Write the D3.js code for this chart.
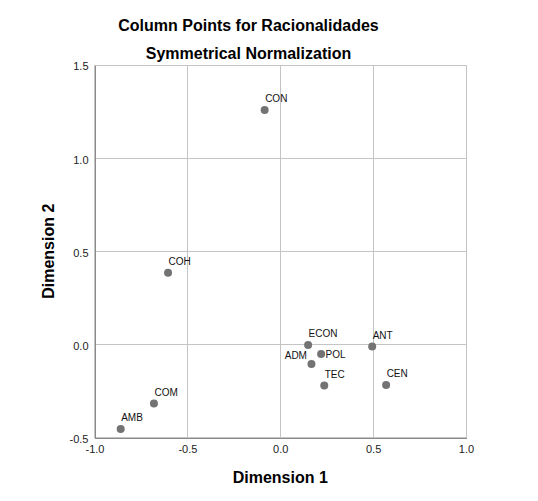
<!DOCTYPE html>
<html><head><meta charset="utf-8">
<script src="https://cdn.jsdelivr.net/npm/d3@7"></script>
<style>body{margin:0;background:#fff}svg{display:block}text{font-family:"Liberation Sans",Arial,sans-serif}</style>
</head><body><svg id="c" width="538" height="501"></svg>
<script>
const labels = ["CON","COH","ECON","POL","ADM","TEC","ANT","CEN","COM","AMB"];
const dim1 = [-0.084,-0.604,0.150,0.220,0.168,0.237,0.495,0.570,-0.680,-0.859];
const dim2 = [1.258,0.384,-0.004,-0.052,-0.106,-0.221,-0.012,-0.218,-0.318,-0.454];
const xTicks = [-1.0,-0.5,0.0,0.5,1.0];
const yTicks = [-0.5,0.0,0.5,1.0,1.5];
const title1 = "Column Points for Racionalidades";
const title2 = "Symmetrical Normalization";

// label placement (style)
const placement = {POL:"right", ADM:"left"};

const svg = d3.select("#c");
const L=94.5, R=466, T=65, B=437.5;
const x = d3.scaleLinear().domain([-1,1]).range([L,R]);
const y = d3.scaleLinear().domain([-0.5,1.5]).range([B,T]);
const fmt = d => d.toFixed(1);

const g = svg.append("g");
g.selectAll("line.gx").data(xTicks).join("line")
 .attr("x1",d=>x(d)).attr("x2",d=>x(d)).attr("y1",T).attr("y2",B)
 .attr("stroke","#c4c4c4").attr("stroke-width",1).attr("shape-rendering","crispEdges");
g.selectAll("line.gy").data(yTicks).join("line")
 .attr("y1",d=>y(d)).attr("y2",d=>y(d)).attr("x1",L).attr("x2",R)
 .attr("stroke","#c4c4c4").attr("stroke-width",1).attr("shape-rendering","crispEdges");

const xAxis = d3.axisBottom(x).tickValues(xTicks).tickFormat(fmt).tickSize(0).tickPadding(8);
const yAxis = d3.axisLeft(y).tickValues(yTicks).tickFormat(fmt).tickSize(0).tickPadding(6);
const xa = svg.append("g").attr("transform",`translate(0,${B})`).call(xAxis);
const ya = svg.append("g").attr("transform",`translate(${L},0)`).call(yAxis);
[xa,ya].forEach(a=>{
  a.select(".domain").attr("stroke","#8a8a8a").attr("shape-rendering","crispEdges");
  a.selectAll("text").attr("font-size","11px").attr("fill","#222").style("font-family",'"Liberation Sans",Arial,sans-serif');
});
ya.selectAll(".tick text").attr("dy","0.45em");

const data = labels.map((l,i)=>({l, a:dim1[i], b:dim2[i]}));
svg.selectAll("circle.p").data(data).join("circle")
 .attr("cx",d=>x(d.a)).attr("cy",d=>y(d.b)).attr("r",4).attr("fill","#737373");

svg.selectAll("text.lab").data(data).join("text")
 .attr("font-size","10px").attr("fill","#111")
 .attr("x",d=>{const p=placement[d.l]; return p==="right"?x(d.a)+4.5:p==="left"?x(d.a)-4.5:x(d.a)+0.5;})
 .attr("y",d=>{const p=placement[d.l]; return p==="right"?y(d.b)+3.6:p==="left"?y(d.b)-5:y(d.b)-8;})
 .attr("text-anchor",d=>placement[d.l]==="left"?"end":"start")
 .text(d=>d.l);

svg.append("text").attr("x",248.5).attr("y",31).attr("text-anchor","middle")
 .attr("font-size","16px").attr("font-weight","bold").attr("fill","#000").text(title1);
svg.append("text").attr("x",248.5).attr("y",58.5).attr("text-anchor","middle")
 .attr("font-size","16px").attr("font-weight","bold").attr("fill","#000").text(title2);
svg.append("text").attr("x",(L+R)/2).attr("y",483).attr("text-anchor","middle")
 .attr("font-size","16px").attr("font-weight","bold").attr("fill","#000").text("Dimension 1");
svg.append("text").attr("transform",`translate(53.5,${(T+B)/2}) rotate(-90)`).attr("text-anchor","middle")
 .attr("font-size","16px").attr("font-weight","bold").attr("fill","#000").text("Dimension 2");
</script></body></html>
